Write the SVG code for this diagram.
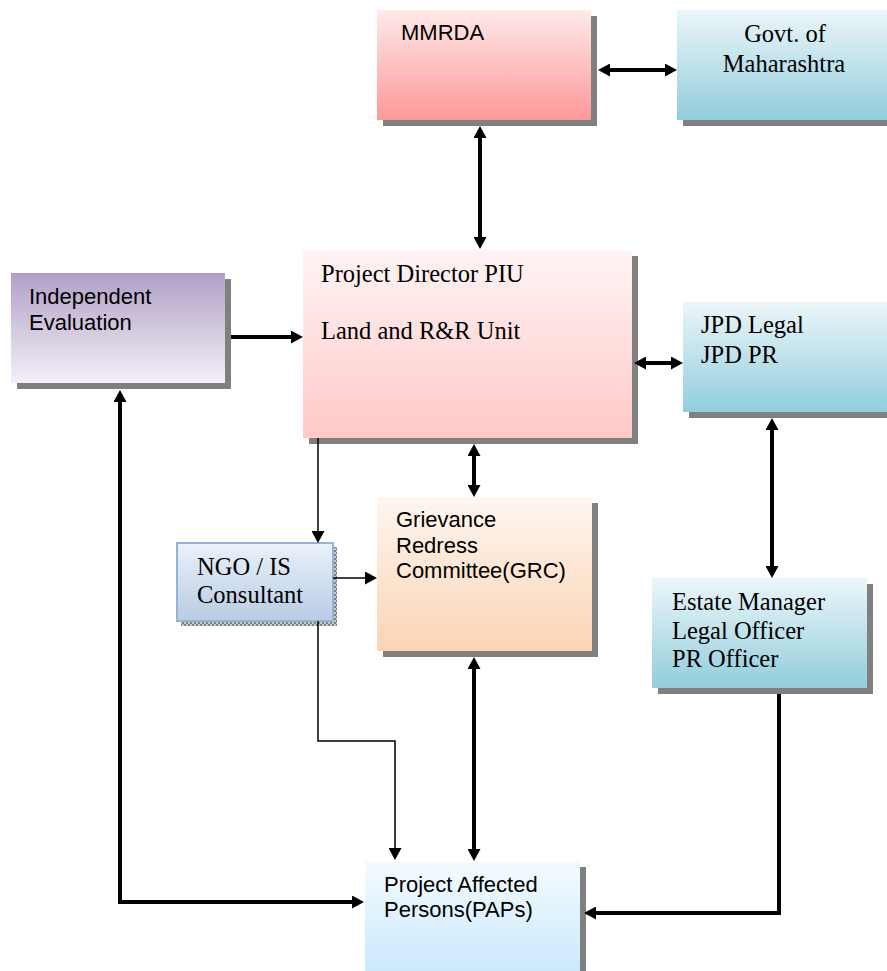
<svg xmlns="http://www.w3.org/2000/svg" width="887" height="971" viewBox="0 0 887 971">
<style>
.sh{fill:#808080}
.sans{font-family:"Liberation Sans",Arial,sans-serif;font-size:22px;fill:#000}
.serif{font-family:"Liberation Serif","Times New Roman",serif;font-size:24.5px;fill:#000}
.thick{stroke:#000;stroke-width:4;fill:none}
.thin{stroke:#000;stroke-width:1.5;fill:none}
</style>
<defs>
<linearGradient id="gRed" x1="0" y1="0" x2="0" y2="1"><stop offset="0" stop-color="#ffeaea"/><stop offset="1" stop-color="#fd9898"/></linearGradient>
<linearGradient id="gTeal" x1="0" y1="0" x2="0" y2="1"><stop offset="0" stop-color="#ecf6f9"/><stop offset="1" stop-color="#92cddc"/></linearGradient>
<linearGradient id="gPurple" x1="0" y1="0" x2="0" y2="1"><stop offset="0" stop-color="#b1a0c7"/><stop offset="1" stop-color="#f3f0f7"/></linearGradient>
<linearGradient id="gPink" x1="0" y1="0" x2="0" y2="1"><stop offset="0" stop-color="#fff4f4"/><stop offset="1" stop-color="#ffc8c8"/></linearGradient>
<linearGradient id="gPeach" x1="0" y1="0" x2="0" y2="1"><stop offset="0" stop-color="#fef6f0"/><stop offset="1" stop-color="#fbd4b4"/></linearGradient>
<linearGradient id="gBlue" x1="0" y1="0" x2="0" y2="1"><stop offset="0" stop-color="#eaf1fa"/><stop offset="1" stop-color="#b8cce4"/></linearGradient>
<linearGradient id="gSky" x1="0" y1="0" x2="0" y2="1"><stop offset="0" stop-color="#f5fbff"/><stop offset="1" stop-color="#c8e8fb"/></linearGradient>
<pattern id="dots" width="4" height="4" patternUnits="userSpaceOnUse"><rect width="4" height="4" fill="#c8c8c8"/><rect width="2" height="2" fill="#808080"/><rect x="2" y="2" width="2" height="2" fill="#808080"/></pattern>
<marker id="ah" viewBox="0 0 12 13" refX="6" refY="6.5" markerWidth="12" markerHeight="13" markerUnits="userSpaceOnUse" orient="auto-start-reverse"><path d="M0,0 L12,6.5 L0,13 z" fill="#000"/></marker>
</defs>

<g id="mmrda">
<rect class="sh" x="383" y="16" width="214" height="110"/>
<rect x="377" y="10" width="214" height="110" fill="url(#gRed)"/>
<text class="sans" x="401" y="40">MMRDA</text>
</g>

<g id="govt">
<rect class="sh" x="683" y="16" width="214" height="110"/>
<rect x="677" y="10" width="214" height="110" fill="url(#gTeal)"/>
<text class="serif" x="785" y="42" text-anchor="middle">Govt. of</text>
<text class="serif" x="784" y="72" text-anchor="middle">Maharashtra</text>
</g>

<g id="independent">
<rect class="sh" x="17" y="279" width="214" height="110"/>
<rect x="11" y="273" width="214" height="110" fill="url(#gPurple)"/>
<text class="sans" x="29" y="304">Independent</text>
<text class="sans" x="29" y="330">Evaluation</text>
</g>

<g id="piu">
<rect class="sh" x="309" y="256" width="329" height="188"/>
<rect x="303" y="250" width="329" height="188" fill="url(#gPink)"/>
<text class="serif" x="321" y="282">Project Director PIU</text>
<text class="serif" x="321" y="339">Land and R&amp;R Unit</text>
</g>

<g id="jpd">
<rect class="sh" x="689" y="308" width="208" height="110"/>
<rect x="683" y="302" width="208" height="110" fill="url(#gTeal)"/>
<text class="serif" x="701" y="333">JPD Legal</text>
<text class="serif" x="701" y="363">JPD PR</text>
</g>

<g id="grc">
<rect class="sh" x="383" y="503" width="215" height="154"/>
<rect x="377" y="497" width="215" height="154" fill="url(#gPeach)"/>
<text class="sans" x="396" y="527">Grievance</text>
<text class="sans" x="396" y="553">Redress</text>
<text class="sans" x="396" y="578">Committee(GRC)</text>
</g>

<g id="ngo">
<rect x="181" y="547" width="156" height="79" fill="url(#dots)"/>
<rect x="177" y="543" width="156" height="78" fill="url(#gBlue)" stroke="#95b3d7" stroke-width="2"/>
<text class="serif" x="197" y="575">NGO / IS</text>
<text class="serif" x="197" y="603">Consultant</text>
</g>

<g id="estate">
<rect class="sh" x="658" y="584" width="215" height="110"/>
<rect x="652" y="578" width="215" height="110" fill="url(#gTeal)"/>
<text class="serif" x="672" y="610">Estate Manager</text>
<text class="serif" x="672" y="639">Legal Officer</text>
<text class="serif" x="672" y="667">PR Officer</text>
</g>

<g id="paps">
<rect class="sh" x="371" y="867" width="215" height="115"/>
<rect x="365" y="861" width="215" height="115" fill="url(#gSky)"/>
<text class="sans" x="384" y="892">Project Affected</text>
<text class="sans" x="384" y="917">Persons(PAPs)</text>
</g>

<g id="connectors">
<line class="thick" x1="604" y1="70" x2="671" y2="70" marker-start="url(#ah)" marker-end="url(#ah)"/>
<line class="thick" x1="480" y1="132" x2="480" y2="243" marker-start="url(#ah)" marker-end="url(#ah)"/>
<line class="thick" x1="231" y1="337" x2="297" y2="337" marker-end="url(#ah)"/>
<line class="thick" x1="640" y1="363" x2="677" y2="363" marker-start="url(#ah)" marker-end="url(#ah)"/>
<line class="thick" x1="474" y1="450" x2="474" y2="491" marker-start="url(#ah)" marker-end="url(#ah)"/>
<line class="thick" x1="772" y1="424" x2="772" y2="572" marker-start="url(#ah)" marker-end="url(#ah)"/>
<line class="thin" x1="318" y1="438" x2="318" y2="537" marker-end="url(#ah)"/>
<line class="thin" x1="333" y1="578" x2="371" y2="578" marker-end="url(#ah)"/>
<path class="thin" d="M318,621 V741 H395 V854" marker-end="url(#ah)"/>
<line class="thick" x1="474" y1="663" x2="474" y2="855" marker-start="url(#ah)" marker-end="url(#ah)"/>
<path class="thick" d="M120,396 V902 H358" marker-start="url(#ah)" marker-end="url(#ah)"/>
<path class="thick" d="M779,694 V913 H590" marker-end="url(#ah)"/>
</g>
</svg>
